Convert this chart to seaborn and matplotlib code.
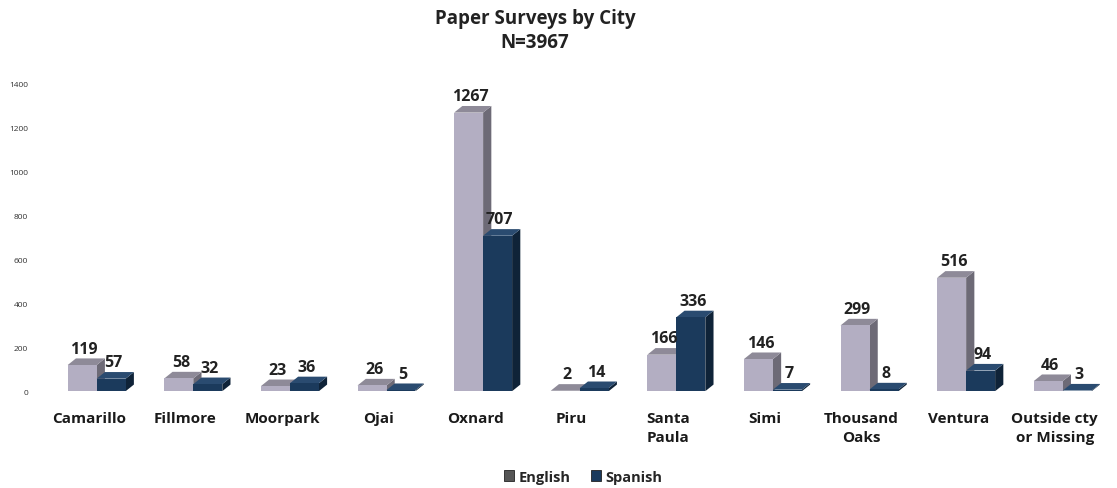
import numpy as np
import pandas as pd
import matplotlib
matplotlib.use("Agg")
import matplotlib.pyplot as plt
import matplotlib.transforms as mtransforms
import seaborn as sns
from matplotlib.patches import Polygon, Patch

# data
cities = ["Camarillo", "Fillmore", "Moorpark", "Ojai", "Oxnard", "Piru",
          "Santa\nPaula", "Simi", "Thousand\nOaks", "Ventura",
          "Outside cty\nor Missing"]
english = [119, 58, 23, 26, 1267, 2, 166, 146, 299, 516, 46]
spanish = [57, 32, 36, 5, 707, 14, 336, 7, 8, 94, 3]
languages = ["English", "Spanish"]

front = {"English": "#b3aec2", "Spanish": "#1b3a5c"}
side = {"English": "#6d6a76", "Spanish": "#0f2338"}
top = {"English": "#8e8a98", "Spanish": "#2a4b70"}

df = pd.DataFrame({"City": cities * 2,
                   "Language": ["English"] * len(cities) + ["Spanish"] * len(cities),
                   "Count": english + spanish})

sns.set_style("white")
plt.rcParams["font.family"] = ["Open Sans", "DejaVu Sans"]

fig = plt.figure(figsize=(11.17, 4.89), dpi=100)
ax = fig.add_axes([0.039, 0.198, 0.960, 0.652])

sns.barplot(data=df, x="City", y="Count", hue="Language", order=cities,
            hue_order=languages, palette=front, width=0.6, dodge=True,
            saturation=1, linewidth=0, legend=False, ax=ax)

ax.set_ylim(0, 1450)
ax.set_xlim(-0.55, len(cities) - 0.45)

# fake 3D depth from the drawn bar geometry
dx = 0.085
dy = 30
for i, lang in enumerate(languages):
    bars = ax.containers[i]
    for j, p in enumerate(bars.patches):
        x0, y0 = p.get_x(), p.get_y()
        w, h = p.get_width(), p.get_height()
        x1, y1 = x0 + w, y0 + h
        z = 2 + 2 * i
        p.set_zorder(z + 1)
        p.set_edgecolor("none")
        ax.add_patch(Polygon([(x1, y0), (x1 + dx, y0 + dy), (x1 + dx, y1 + dy), (x1, y1)],
                             closed=True, facecolor=side[lang], edgecolor="none", zorder=z))
        ax.add_patch(Polygon([(x0, y1), (x0 + dx, y1 + dy), (x1 + dx, y1 + dy), (x1, y1)],
                             closed=True, facecolor=top[lang], edgecolor="none", zorder=z))
        ax.text(x0 + w / 2 + dx / 4, y1 + dy + 8, str(int(h)), ha="center", va="bottom",
                fontsize=11.5, fontweight="bold", color="#222222", zorder=10)

sns.despine(ax=ax, left=True, bottom=True)
ax.set_xlabel("")
ax.set_ylabel("")
ax.set_yticks(range(0, 1401, 200))
ax.tick_params(axis="y", labelsize=6, length=0, pad=11)
ax.tick_params(axis="x", length=0, pad=14)
for lbl in ax.get_yticklabels():
    lbl.set_color("#333333")
# category labels sit a bit left of the bars, like the 3D original
shift = mtransforms.ScaledTranslation(-8 / 100, 0, fig.dpi_scale_trans)
for lbl in ax.get_xticklabels():
    lbl.set_fontsize(11)
    lbl.set_fontweight("bold")
    lbl.set_color("#1a1a1a")
    lbl.set_linespacing(1.45)
    lbl.set_transform(lbl.get_transform() + shift)

fig.suptitle("Paper Surveys by City\nN=3967", x=0.479, y=0.982, fontsize=13.5,
             fontweight="bold", color="#222222", linespacing=1.3)

handles = [Patch(facecolor="#555555", edgecolor="#222222", linewidth=0.6),
           Patch(facecolor=front["Spanish"], edgecolor="#222222", linewidth=0.6)]
fig.legend(handles, languages, loc="lower center", bbox_to_anchor=(0.522, -0.018), ncol=2,
           frameon=False, handlelength=0.7, handleheight=0.7, handletextpad=0.3,
           columnspacing=1.4, prop={"weight": "bold", "size": 10.5})

fig.savefig("out.png", dpi=100)
